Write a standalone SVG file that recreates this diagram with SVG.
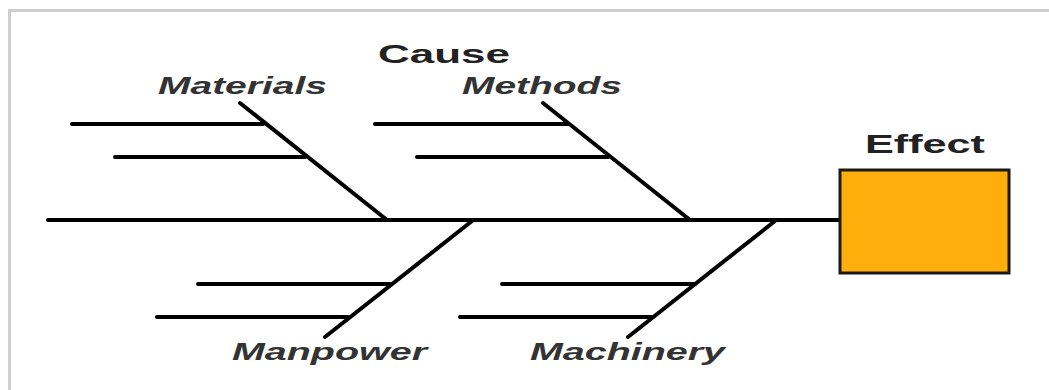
<svg xmlns="http://www.w3.org/2000/svg" width="1049" height="390" viewBox="0 0 1049 390">
<style>
.bone{stroke:#000;stroke-width:4;stroke-linecap:round;fill:none}
.lbl{font-family:"Liberation Sans",Arial,sans-serif;font-weight:bold;font-style:italic;font-size:24px;fill:#333}
.ttl{font-family:"Liberation Sans",Arial,sans-serif;font-weight:bold;font-size:26px;fill:#222}
</style>
<rect width="1049" height="390" fill="#fff"/>
<path d="M9.5,390 V10.5 H1049" fill="none" stroke="#cfcfcf" stroke-width="3"/>
<g id="connectors">
<line class="bone" x1="48" y1="220" x2="840" y2="220"/>
</g>
<g id="materials">
<line class="bone" x1="240" y1="103" x2="387" y2="220"/>
<line class="bone" x1="72" y1="124" x2="263" y2="124"/>
<line class="bone" x1="115" y1="157" x2="305" y2="157"/>
<text class="lbl" x="158" y="94" textLength="169" lengthAdjust="spacingAndGlyphs">Materials</text>
</g>
<g id="methods">
<line class="bone" x1="543" y1="103" x2="690" y2="220"/>
<line class="bone" x1="375" y1="124" x2="568" y2="124"/>
<line class="bone" x1="417" y1="157" x2="608" y2="157"/>
<text class="lbl" x="462" y="94" textLength="160" lengthAdjust="spacingAndGlyphs">Methods</text>
</g>
<g id="manpower">
<line class="bone" x1="472" y1="221" x2="325" y2="337"/>
<line class="bone" x1="198" y1="284" x2="390" y2="284"/>
<line class="bone" x1="157" y1="317" x2="348" y2="317"/>
<text class="lbl" x="232" y="360" textLength="195" lengthAdjust="spacingAndGlyphs">Manpower</text>
</g>
<g id="machinery">
<line class="bone" x1="775" y1="221" x2="628" y2="337"/>
<line class="bone" x1="502" y1="284" x2="695" y2="284"/>
<line class="bone" x1="460" y1="317" x2="652" y2="317"/>
<text class="lbl" x="530" y="360" textLength="195" lengthAdjust="spacingAndGlyphs">Machinery</text>
</g>
<g id="cause">
<text class="ttl" x="378" y="63" textLength="132" lengthAdjust="spacingAndGlyphs">Cause</text>
</g>
<g id="effect">
<rect x="840" y="170" width="169" height="103" fill="#FFAE0C" stroke="#1a1a1a" stroke-width="3"/>
<text class="ttl" x="865" y="153" textLength="120" lengthAdjust="spacingAndGlyphs">Effect</text>
</g>
</svg>
